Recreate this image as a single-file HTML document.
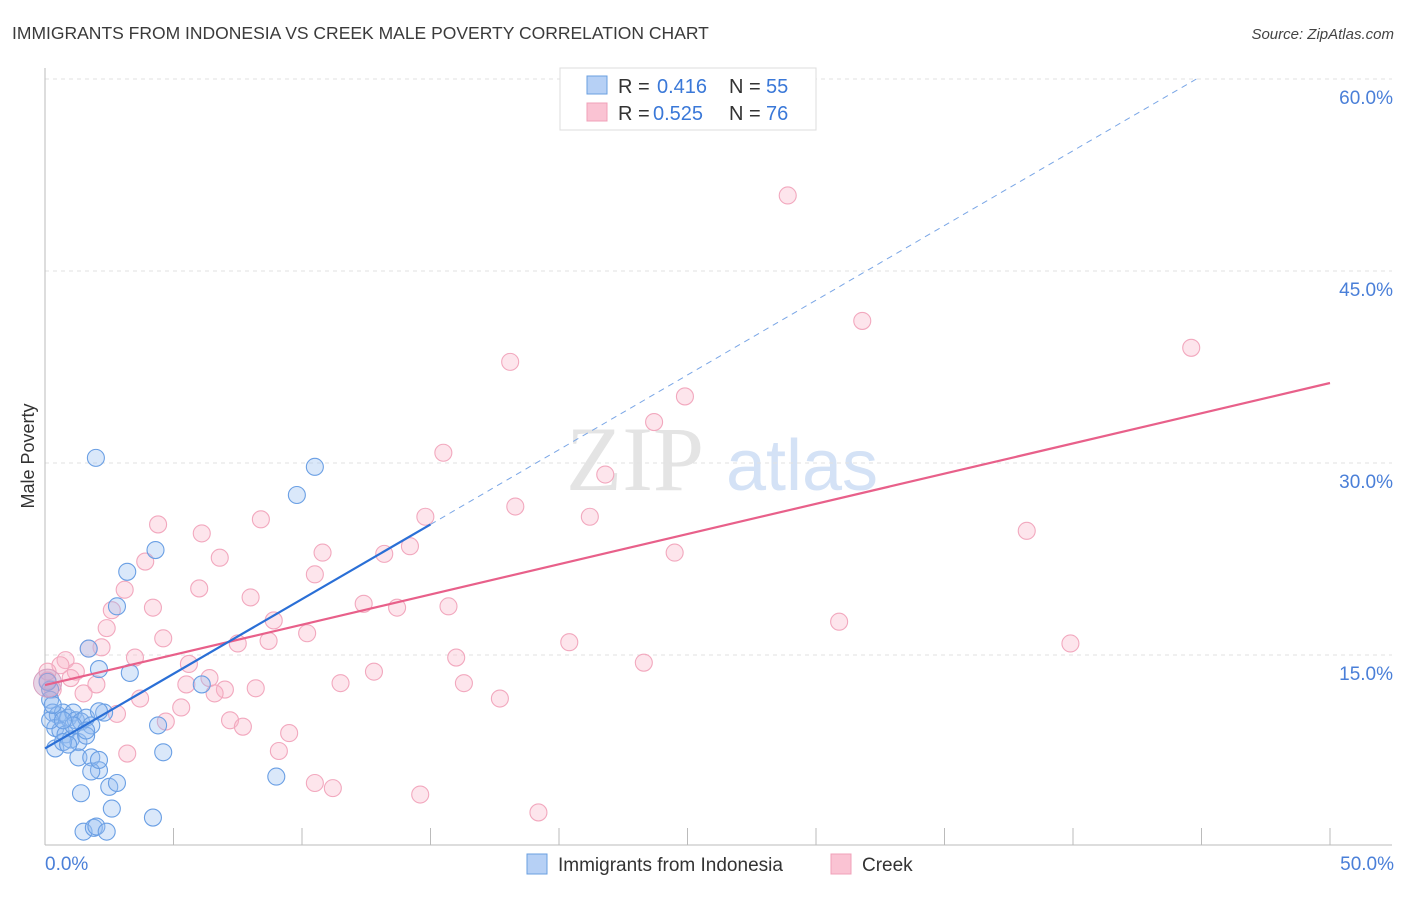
<!DOCTYPE html>
<html><head><meta charset="utf-8"><style>
body{margin:0;background:#fff;font-family:"Liberation Sans",sans-serif;}
</style></head><body>
<svg id="chart" width="1406" height="892" xmlns="http://www.w3.org/2000/svg" style="font-family:'Liberation Sans',sans-serif">
<text x="12" y="39" font-size="17.5" fill="#3a3a3a">IMMIGRANTS FROM INDONESIA VS CREEK MALE POVERTY CORRELATION CHART</text>
<text x="1394" y="39" font-size="15" fill="#444" font-style="italic" text-anchor="end">Source: ZipAtlas.com</text>
<text transform="translate(34,456) rotate(-90)" font-size="18" fill="#333" text-anchor="middle">Male Poverty</text>
<g>
<text x="635" y="490" font-size="92" fill="#e4e4e4" font-family="Liberation Serif" text-anchor="middle">ZIP</text>
<text x="802" y="490" font-size="72" fill="#d4e2f6" text-anchor="middle">atlas</text>
</g>
<g id="grid"></g><g id="axes"></g><g id="marks"></g><g id="trends"></g>
<g>
<rect x="560" y="68" width="256" height="62" fill="#fff" stroke="#ddd"/>
<rect x="587" y="76" width="20" height="18" fill="#b6d0f5" stroke="#6a9fe0"/>
<rect x="587" y="103" width="20" height="18" fill="#fac3d3" stroke="#f0a0b8"/>
<text x="618" y="93" font-size="20" fill="#333">R =</text>
<text x="657" y="93" font-size="20" fill="#3a78d8">0.416</text>
<text x="729" y="93" font-size="20" fill="#333">N =</text>
<text x="766" y="93" font-size="20" fill="#3a78d8">55</text>
<text x="618" y="120" font-size="20" fill="#333">R =</text>
<text x="653" y="120" font-size="20" fill="#3a78d8">0.525</text>
<text x="729" y="120" font-size="20" fill="#333">N =</text>
<text x="766" y="120" font-size="20" fill="#3a78d8">76</text>
</g>
<g>
<rect x="527" y="854" width="20" height="20" fill="#b6d0f5" stroke="#6a9fe0"/>
<text x="558" y="871" font-size="19" fill="#333">Immigrants from Indonesia</text>
<rect x="831" y="854" width="20" height="20" fill="#fac3d3" stroke="#f0a0b8"/>
<text x="862" y="871" font-size="19" fill="#333">Creek</text>
</g>
</svg>
<script>
const yTicks=[15,30,45,60];
const yTickLabels=["15.0%","30.0%","45.0%","60.0%"];
const xTickLabels=["0.0%","50.0%"];
const blueX=[1.98,10.5,9.8,4.3,3.2,2.8,1.7,2.1,3.3,6.1,2.3,4.4,4.6,9.0,0.2,0.3,0.5,0.7,0.9,1.1,1.2,1.4,1.6,1.8,0.4,0.6,0.8,1.0,1.3,0.4,1.6,0.2,0.1,1.3,1.8,2.1,1.8,1.4,2.5,2.8,2.6,4.2,1.5,1.9,2.0,2.4,0.2,0.7,1.1,0.9,1.6,2.1,0.3,0.7,2.1];
const blueY=[30.4,29.7,27.5,23.2,21.5,18.8,15.5,13.9,13.6,12.7,10.5,9.5,7.4,5.5,11.5,10.5,10.3,10.5,10.1,10.5,9.9,9.8,10.1,9.5,9.3,9.1,8.8,8.4,8.2,7.7,8.7,12.3,12.9,7.0,7.0,6.0,5.9,4.2,4.7,5.0,3.0,2.3,1.2,1.5,1.6,1.2,9.9,8.2,9.5,8.0,9.1,10.6,11.1,9.9,6.8];
const pinkX=[28.9,31.8,44.6,18.1,24.9,23.7,15.5,21.8,38.2,18.3,21.2,14.8,4.4,6.1,8.4,14.2,13.2,10.8,24.5,6.8,3.9,10.5,6.0,8.0,3.1,2.6,4.2,12.4,13.7,15.7,30.9,8.9,2.4,10.2,4.6,39.9,20.4,7.5,8.7,2.2,1.7,3.5,16.0,23.3,5.6,0.8,0.6,1.2,12.8,6.4,1.0,2.0,5.5,7.0,8.2,11.5,16.3,0.1,0.3,1.5,6.6,3.7,17.7,5.3,2.8,4.7,7.2,7.7,9.5,9.1,3.2,10.5,11.2,14.6,19.2,0.1];
const pinkY=[50.9,41.1,39.0,37.9,35.2,33.2,30.8,29.1,24.7,26.6,25.8,25.8,25.2,24.5,25.6,23.5,22.9,23.0,23.0,22.6,22.3,21.3,20.2,19.5,20.1,18.5,18.7,19.0,18.7,18.8,17.6,17.7,17.1,16.7,16.3,15.9,16.0,15.9,16.1,15.6,15.5,14.8,14.8,14.4,14.3,14.6,14.2,13.7,13.7,13.2,13.2,12.7,12.7,12.3,12.4,12.8,12.8,13.0,12.3,12.0,12.0,11.6,11.6,10.9,10.4,9.8,9.9,9.4,8.9,7.5,7.3,5.0,4.6,4.1,2.7,13.7];
const blueTrend=[[0,7.7],[15,25.2]];
const blueTrendExt=[[15,25.2],[44.8,60]];
const pinkTrend=[[0,12.65],[50,36.25]];
const NS="http://www.w3.org/2000/svg";
const X=v=>45+v*25.7, Y=v=>847-v*12.8;
function mk(tag,attrs,parent){const e=document.createElementNS(NS,tag);for(const k in attrs)e.setAttribute(k,attrs[k]);document.getElementById(parent).appendChild(e);return e;}
yTicks.forEach((t,i)=>{
 const g=mk('line',{x1:45,x2:1392,y1:Y(t),y2:Y(t),stroke:'#e2e2e2','stroke-dasharray':'4,4'},'grid');
 
 
 const l=mk('text',{x:1393,y:Y(t)+25,'font-size':19,fill:'#4a7fd8','text-anchor':'end'},'grid');l.textContent=yTickLabels[i];
 
 
});
const ax=mk('line',{x1:45,x2:45,y1:68,y2:845,stroke:'#bbb'},'axes');


const bx=mk('line',{x1:45,x2:1392,y1:845,y2:845,stroke:'#bbb'},'axes');


for(let i=1;i<=10;i++){const t=mk('line',{x1:X(i*5),x2:X(i*5),y1:828,y2:845,stroke:'#bbb'},'axes');
 
 }
[[0,'start',45],[50,'end',1394]].forEach((d,i)=>{const t=mk('text',{x:d[2],y:870,'font-size':19,fill:'#4a7fd8','text-anchor':d[1]},'axes');t.textContent=xTickLabels[i];
 
 });
pinkX.forEach((x,i)=>{const c=mk('circle',{cx:X(x),cy:Y(pinkY[i]),r:8.5,fill:'rgba(248,180,200,0.35)',stroke:'#f2a8be','stroke-width':1.1},'marks');
 
 });
blueX.forEach((x,i)=>{const c=mk('circle',{cx:X(x),cy:Y(blueY[i]),r:8.5,fill:'rgba(150,190,240,0.35)',stroke:'#6a9fe4','stroke-width':1.1},'marks');
 
 });
const big=mk('circle',{cx:X(0.1),cy:Y(12.8),r:14,fill:'rgba(200,160,200,0.45)',stroke:'#d8a0c0'},'marks');


function line(p,st,dash,name){const l=mk('line',{x1:X(p[0][0]),y1:Y(p[0][1]),x2:X(p[1][0]),y2:Y(p[1][1]),stroke:st,'stroke-width':dash?1:2.2},'trends');if(dash)l.setAttribute('stroke-dasharray','6,5');
 
 }
line(blueTrendExt,'#7aa6e6',true,'indonesia-trend-extension');
line(pinkTrend,'#e8608a',false,'creek-trend-line');
line(blueTrend,'#2a6fd6',false,'indonesia-trend-line');
</script>
</body></html>
